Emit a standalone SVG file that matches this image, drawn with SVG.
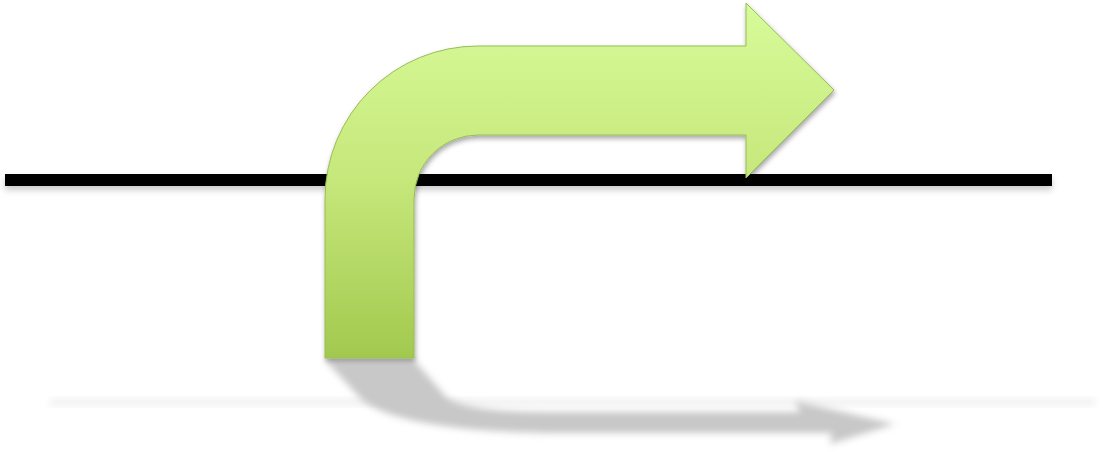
<svg xmlns="http://www.w3.org/2000/svg" width="1103" height="452" viewBox="0 0 1103 452">
<defs>
<linearGradient id="g" x1="0" y1="0" x2="0" y2="1">
<stop offset="0" stop-color="#d7fb9a"/>
<stop offset="0.5" stop-color="#c6e77a"/>
<stop offset="1" stop-color="#a2c94f"/>
</linearGradient>
<filter id="ds" x="-10%" y="-10%" width="120%" height="130%">
<feDropShadow dx="1" dy="3" stdDeviation="2.5" flood-color="#000" flood-opacity="0.35"/>
</filter>
<filter id="bl" x="-10%" y="-50%" width="120%" height="200%">
<feGaussianBlur stdDeviation="3.5"/>
</filter>
<filter id="ls" x="-5%" y="-200%" width="110%" height="500%">
<feDropShadow dx="0" dy="4" stdDeviation="3" flood-color="#000" flood-opacity="0.2"/>
</filter>
</defs>
<rect width="1103" height="452" fill="#ffffff"/>
<g id="reflection">
<rect x="50" y="399" width="1045" height="6" fill="#eeeeee" filter="url(#bl)"/>
<path d="M325,360 L414,360 L447,398 Q470,412 545,412 L800,412 L795,401 L895,424 L830,444 L832,433 L545,433 Q400,430 362,400 Z" fill="#c8c8c8" filter="url(#bl)"/>
</g>
<g id="line">
<rect x="5" y="174" width="1047" height="12" fill="#000" filter="url(#ls)"/>
</g>
<g id="arrow">
<path d="M325,358 L325,199 A153,153 0 0 1 478,46 L746,46 L746,3 L834,90 L746,178 L746,135 L478,135 A64,64 0 0 0 414,199 L414,358 Z" fill="url(#g)" stroke="#98bc55" stroke-width="1" filter="url(#ds)"/>
</g>
</svg>
